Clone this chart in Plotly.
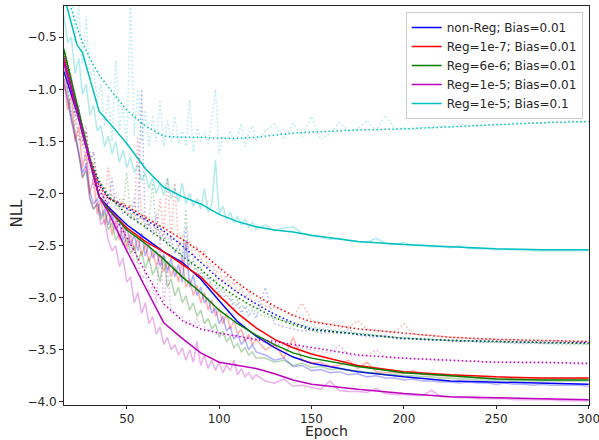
import plotly.graph_objects as go

# epochs for the smoothed curves and for the raw (unsmoothed) curves
EPOCH_SMOOTH = [16, 20, 23, 26, 30, 35, 40, 50, 60, 70, 80, 90, 100, 110, 120,
                130, 140, 150, 175, 200, 225, 250, 275, 300]
EPOCH_RAW = list(range(16, 121, 2)) + list(range(125, 301, 5))

# --- non-Reg; Bias=0.01 (blue)
blue_train = [-0.83, -1.05, -1.22, -1.42, -1.70, -2.03, -2.13, -2.30, -2.43, -2.56, -2.66, -2.82,
              -3.03, -3.23, -3.37, -3.48, -3.57, -3.63, -3.71, -3.76, -3.80, -3.81, -3.82, -3.83]
blue_val = [-0.70, -0.98, -1.20, -1.42, -1.68, -1.90, -2.04, -2.14, -2.25, -2.36, -2.50, -2.66,
            -2.82, -2.95, -3.06, -3.16, -3.24, -3.30, -3.35, -3.39, -3.41, -3.42, -3.43, -3.43]
blue_train_raw = [
    -0.95, -1.10, -1.30, -1.45, -1.62, -1.80, -1.72, -1.98, -2.10, -2.05,
    -2.22, -2.15, -2.30, -2.20, -2.35, -2.28, -2.45, -2.32, -2.50, -2.40,
    -2.55, -2.38, -2.60, -2.48, -2.62, -2.55, -2.70, -2.58, -2.75, -2.62,
    -2.80, -2.68, -2.85, -2.45, -2.90, -2.78, -2.98, -2.90, -3.05, -3.00,
    -3.15, -3.10, -3.25, -3.18, -3.32, -3.28, -3.40, -3.35, -3.45, -3.40,
    -3.50, -3.45, -3.52,
    -3.55, -3.60, -3.58, -3.66, -3.65, -3.70, -3.69, -3.72, -3.71, -3.74,
    -3.73, -3.76, -3.75, -3.77, -3.77, -3.79, -3.78, -3.80, -3.80, -3.81,
    -3.81, -3.82, -3.81, -3.82, -3.82, -3.83, -3.82, -3.83, -3.83, -3.84,
    -3.83, -3.84, -3.84, -3.84, -3.84, -3.85]
blue_val_raw = [
    -0.75, -0.95, -1.25, -1.20, -1.50, -1.45, -1.75, -1.60, -1.95, -1.85,
    -2.05, -2.00, -2.10, -1.85, -2.15, -2.10, -2.20, -2.15, -2.25, -2.05,
    -2.30, -1.00, -2.35, -2.28, -2.40, -2.20, -2.45, -2.38, -2.50, -2.42,
    -2.58, -2.50, -2.65, -2.30, -2.72, -2.65, -2.80, -2.75, -2.88, -2.80,
    -2.92, -2.88, -3.00, -2.95, -3.05, -3.00, -3.10, -3.05, -3.15, -3.08,
    -3.18, -3.12, -3.20,
    -2.90, -3.25, -3.28, -3.30, -3.32, -3.31, -3.34, -3.33, -3.35, -3.30,
    -3.36, -3.37, -3.38, -3.36, -3.39, -3.40, -3.39, -3.41, -3.41, -3.40,
    -3.42, -3.42, -3.41, -3.43, -3.43, -3.42, -3.43, -3.43, -3.44, -3.43,
    -3.44, -3.44, -3.43, -3.44, -3.44, -3.44]

# --- Reg=1e-7; Bias=0.01 (red)
red_train = [-0.72, -0.98, -1.19, -1.40, -1.68, -2.03, -2.15, -2.33, -2.46, -2.56, -2.68, -2.80,
             -2.98, -3.15, -3.29, -3.40, -3.48, -3.54, -3.65, -3.71, -3.74, -3.76, -3.77, -3.77]
red_val = [-0.68, -0.97, -1.19, -1.41, -1.68, -1.92, -2.05, -2.12, -2.23, -2.33, -2.44, -2.56,
           -2.71, -2.86, -2.98, -3.08, -3.17, -3.23, -3.30, -3.34, -3.38, -3.40, -3.41, -3.42]
red_train_raw = [
    -0.90, -1.20, -1.05, -1.50, -1.35, -1.75, -1.60, -2.00, -1.85, -2.20,
    -2.05, -2.30, -2.15, -2.40, -2.25, -2.45, -2.30, -2.52, -2.38, -2.55,
    -2.42, -2.60, -2.48, -2.65, -2.55, -2.70, -2.58, -2.75, -2.65, -2.80,
    -2.70, -2.85, -2.62, -2.90, -2.82, -2.98, -2.88, -3.05, -2.95, -3.12,
    -3.02, -3.18, -3.10, -3.25, -3.15, -3.30, -3.22, -3.35, -3.30, -3.42,
    -3.35, -3.45, -3.40,
    -3.50, -3.45, -3.58, -3.38, -3.60, -3.63, -3.62, -3.66, -3.65, -3.60,
    -3.68, -3.62, -3.71, -3.72, -3.72, -3.73, -3.70, -3.74, -3.74, -3.75,
    -3.75, -3.76, -3.76, -3.77, -3.77, -3.77, -3.77, -3.78, -3.78, -3.78,
    -3.78, -3.78, -3.78, -3.78, -3.78, -3.78]
red_val_raw = [
    -0.70, -1.00, -0.90, -1.35, -1.20, -1.55, -1.40, -1.80, -1.70, -1.90,
    -1.95, -2.05, -1.75, -2.10, -2.00, -2.15, -2.05, -2.20, -2.10, -2.25,
    -1.45, -2.28, -2.20, -2.32, -2.25, -2.38, -2.05, -2.40, -1.85, -2.45,
    -1.90, -2.50, -2.40, -2.55, -2.45, -2.60, -2.50, -2.65, -2.55, -2.72,
    -2.65, -2.78, -2.70, -2.85, -2.78, -2.90, -2.85, -2.95, -2.90, -3.00,
    -2.95, -3.05, -3.02,
    -3.08, -3.10, -3.12, -3.18, -3.05, -3.22, -3.24, -3.25, -3.27, -3.28,
    -3.22, -3.30, -3.31, -3.32, -3.33, -3.25, -3.35, -3.36, -3.36, -3.37,
    -3.38, -3.38, -3.39, -3.40, -3.40, -3.40, -3.41, -3.40, -3.41, -3.42,
    -3.42, -3.41, -3.42, -3.42, -3.43, -3.42]

# --- Reg=6e-6; Bias=0.01 (green)
green_train = [-0.62, -0.92, -1.14, -1.38, -1.68, -2.03, -2.15, -2.35, -2.48, -2.63, -2.80, -2.95,
               -3.12, -3.25, -3.36, -3.45, -3.53, -3.58, -3.66, -3.72, -3.75, -3.78, -3.79, -3.79]
green_val = [-0.62, -0.92, -1.14, -1.36, -1.66, -1.88, -2.02, -2.20, -2.32, -2.45, -2.60, -2.73,
             -2.88, -3.00, -3.10, -3.19, -3.26, -3.31, -3.35, -3.39, -3.41, -3.42, -3.43, -3.44]
green_train_raw = [
    -0.80, -1.05, -1.25, -1.40, -1.62, -1.85, -1.78, -2.05, -2.15, -2.10,
    -2.25, -2.18, -2.35, -2.28, -2.45, -2.38, -2.50, -2.42, -2.58, -2.50,
    -2.65, -2.55, -2.72, -2.62, -2.78, -2.70, -2.85, -2.60, -2.90, -2.82,
    -2.98, -2.90, -3.05, -2.98, -3.12, -3.05, -3.18, -3.12, -3.25, -3.20,
    -3.30, -3.25, -3.38, -3.32, -3.42, -3.38, -3.48, -3.44, -3.52, -3.48,
    -3.55, -3.52, -3.58,
    -3.58, -3.62, -3.60, -3.65, -3.63, -3.67, -3.66, -3.69, -3.68, -3.70,
    -3.70, -3.72, -3.72, -3.74, -3.74, -3.75, -3.75, -3.76, -3.76, -3.77,
    -3.77, -3.78, -3.78, -3.79, -3.79, -3.79, -3.79, -3.80, -3.80, -3.80,
    -3.80, -3.80, -3.80, -3.80, -3.80, -3.80]
green_val_raw = [
    -0.60, -0.85, -1.00, -1.25, -1.15, -1.50, -1.40, -1.70, -1.60, -1.85,
    -1.90, -1.95, -2.05, -2.00, -2.10, -2.05, -2.15, -1.80, -2.22, -2.18,
    -2.28, -2.20, -2.32, -2.25, -1.90, -2.38, -2.30, -2.45, -2.40, -2.50,
    -2.55, -2.50, -2.62, -2.15, -2.68, -2.62, -2.75, -2.70, -2.80, -2.78,
    -2.88, -2.82, -2.95, -2.90, -3.00, -2.95, -3.05, -3.02, -3.10, -3.05,
    -3.12, -3.10, -3.15,
    -3.18, -3.20, -3.22, -3.25, -3.26, -3.28, -3.30, -3.31, -3.32, -3.33,
    -3.34, -3.35, -3.36, -3.37, -3.38, -3.38, -3.39, -3.40, -3.40, -3.41,
    -3.41, -3.42, -3.42, -3.42, -3.43, -3.43, -3.43, -3.44, -3.44, -3.44,
    -3.44, -3.44, -3.45, -3.45, -3.45, -3.45]

# --- Reg=1e-5; Bias=0.01 (magenta)
mag_train = [-0.75, -1.00, -1.20, -1.40, -1.68, -2.03, -2.18, -2.55, -2.90, -3.24, -3.39, -3.53,
             -3.62, -3.65, -3.68, -3.73, -3.79, -3.83, -3.88, -3.92, -3.95, -3.96, -3.97, -3.98]
mag_val = [-0.70, -0.98, -1.20, -1.42, -1.70, -1.96, -2.12, -2.42, -2.75, -3.06, -3.22, -3.30,
           -3.34, -3.37, -3.40, -3.42, -3.45, -3.48, -3.55, -3.58, -3.60, -3.62, -3.62, -3.63]
mag_train_raw = [
    -0.90, -1.10, -1.30, -1.45, -1.60, -1.85, -1.75, -2.05, -2.15, -2.10,
    -2.30, -2.25, -2.45, -2.55, -2.50, -2.70, -2.62, -2.85, -2.80, -3.05,
    -2.95, -3.15, -3.05, -3.25, -3.18, -3.35, -3.28, -3.45, -3.38, -3.50,
    -3.45, -3.55, -3.48, -3.60, -3.50, -3.62, -3.42, -3.65, -3.55, -3.68,
    -3.60, -3.70, -3.62, -3.72, -3.65, -3.70, -3.60, -3.74, -3.68, -3.76,
    -3.72, -3.78, -3.74,
    -3.80, -3.82, -3.78, -3.85, -3.84, -3.86, -3.88, -3.80, -3.89, -3.90,
    -3.90, -3.91, -3.87, -3.92, -3.93, -3.93, -3.94, -3.94, -3.89, -3.95,
    -3.95, -3.96, -3.96, -3.97, -3.97, -3.97, -3.97, -3.98, -3.98, -3.98,
    -3.98, -3.98, -3.99, -3.99, -3.99, -3.99]
mag_val_raw = [
    -0.65, -0.95, -0.85, -1.25, -1.15, -1.45, -1.35, -1.70, -1.60, -1.95,
    -1.90, -2.10, -2.05, -2.25, -2.20, -2.40, -2.30, -2.55, -2.45, -2.70,
    -2.65, -2.85, -2.75, -2.95, -2.88, -3.05, -2.35, -3.10, -2.70, -3.15,
    -3.12, -3.20, -3.18, -3.25, -3.22, -3.28, -3.20, -3.30, -3.28, -3.32,
    -3.30, -3.34, -3.33, -3.36, -3.35, -3.37, -3.36, -3.38, -3.37, -3.40,
    -3.39, -3.41, -3.40,
    -3.43, -3.44, -3.46, -3.47, -3.48, -3.50, -3.52, -3.53, -3.46, -3.55,
    -3.56, -3.56, -3.50, -3.57, -3.58, -3.58, -3.59, -3.59, -3.60, -3.60,
    -3.60, -3.61, -3.61, -3.61, -3.62, -3.62, -3.62, -3.62, -3.63, -3.63,
    -3.63, -3.63, -3.63, -3.63, -3.64, -3.64]

# --- Reg=1e-5; Bias=0.1 (cyan)
cyan_train = [-0.10, -0.38, -0.57, -0.65, -0.90, -1.21, -1.31, -1.52, -1.76, -1.94, -2.03, -2.10,
              -2.20, -2.27, -2.32, -2.35, -2.37, -2.40, -2.46, -2.49, -2.51, -2.53, -2.54, -2.54]
cyan_val = [0.00, -0.24, -0.40, -0.55, -0.70, -0.86, -0.98, -1.20, -1.35, -1.45, -1.46, -1.46,
            -1.47, -1.47, -1.46, -1.44, -1.42, -1.41, -1.39, -1.38, -1.36, -1.34, -1.32, -1.31]
cyan_train_raw = [
    -0.30, -0.55, -0.50, -0.85, -0.70, -1.05, -0.95, -1.25, -1.15, -1.40,
    -1.35, -1.55, -1.45, -1.62, -1.50, -1.70, -1.58, -1.75, -1.65, -1.80,
    -1.72, -1.88, -1.80, -1.95, -1.85, -2.00, -1.90, -2.02, -1.85, -2.05,
    -1.95, -2.08, -1.90, -2.10, -2.00, -2.12, -2.05, -2.15, -1.95, -2.18,
    -2.10, -1.68, -2.20, -2.12, -2.25, -2.18, -2.28, -2.22, -2.30, -2.25,
    -2.32, -2.28, -2.34,
    -2.30, -2.36, -2.33, -2.32, -2.38, -2.41, -2.42, -2.44, -2.43, -2.45,
    -2.46, -2.47, -2.43, -2.48, -2.49, -2.47, -2.50, -2.50, -2.51, -2.51,
    -2.52, -2.50, -2.53, -2.53, -2.53, -2.54, -2.54, -2.54, -2.54, -2.55,
    -2.55, -2.55, -2.55, -2.55, -2.55, -2.55]
cyan_val_raw = [
    0.20, -0.25, 0.10, -0.55, -0.20, -0.75, -0.30, -0.90, -0.80, -1.10,
    -0.95, -1.35, -1.05, -1.50, -0.72, -1.40, -1.15, -1.55, -0.15, -1.45,
    -1.00, -1.50, -1.20, -1.55, -1.25, -1.50, -1.10, -1.55, -1.30, -1.50,
    -1.26, -1.52, -1.40, -1.55, -1.10, -1.60, -1.35, -1.50, -1.42, -1.52,
    -1.30, -1.00, -1.62, -1.45, -1.50, -1.40, -1.52, -1.45, -1.33, -1.55,
    -1.42, -1.35, -1.50,
    -1.40, -1.33, -1.48, -1.33, -1.45, -1.26, -1.48, -1.42, -1.32, -1.40,
    -1.38, -1.30, -1.40, -1.25, -1.38, -1.37, -1.39, -1.36, -1.37, -1.35,
    -1.36, -1.33, -1.35, -1.34, -1.35, -1.33, -1.34, -1.32, -1.33, -1.32,
    -1.33, -1.31, -1.32, -1.30, -1.31, -1.30]

LABELS = ['non-Reg; Bias=0.01', 'Reg=1e-7; Bias=0.01', 'Reg=6e-6; Bias=0.01',
          'Reg=1e-5; Bias=0.01', 'Reg=1e-5; Bias=0.1']
COLORS = ['#0000ff', '#ff0000', '#008000', '#bf00bf', '#00bfbf']

runs = [
    (blue_train, blue_val, blue_train_raw, blue_val_raw),
    (red_train, red_val, red_train_raw, red_val_raw),
    (green_train, green_val, green_train_raw, green_val_raw),
    (mag_train, mag_val, mag_train_raw, mag_val_raw),
    (cyan_train, cyan_val, cyan_train_raw, cyan_val_raw),
]

DOT = '1.5px,2.5px'

fig = go.Figure()

for (tr, va, tr_raw, va_raw), name, col in zip(runs, LABELS, COLORS):
    # raw curves, faint
    fig.add_trace(go.Scatter(x=EPOCH_RAW, y=tr_raw, mode='lines', opacity=0.3,
                             line=dict(color=col, width=1.5), showlegend=False))
    fig.add_trace(go.Scatter(x=EPOCH_RAW, y=va_raw, mode='lines', opacity=0.3,
                             line=dict(color=col, width=1.5, dash=DOT), showlegend=False))
    # smoothed curves
    fig.add_trace(go.Scatter(x=EPOCH_SMOOTH, y=tr, mode='lines', name=name,
                             line=dict(color=col, width=1.5)))
    fig.add_trace(go.Scatter(x=EPOCH_SMOOTH, y=va, mode='lines', showlegend=False,
                             line=dict(color=col, width=1.5, dash=DOT)))

axis_common = dict(showline=True, mirror=True, linecolor='#262626', linewidth=1,
                   ticks='outside', tickcolor='#262626', showgrid=False,
                   zeroline=False, automargin=False, ticklabeloverflow='allow',
                   tickfont=dict(size=12, color='#262626'))

fig.update_layout(
    width=599, height=440,
    margin=dict(l=64, r=10, t=6, b=35),
    paper_bgcolor='white', plot_bgcolor='white',
    font=dict(family='DejaVu Sans', color='#262626'),
    xaxis=dict(range=[16, 300.2], tickvals=[50, 100, 150, 200, 250, 300], ticklen=3,
               **axis_common),
    yaxis=dict(range=[-4.03, -0.2], tick0=-4.0, dtick=0.5, tickformat='.1f', ticklen=4,
               **axis_common),
    legend=dict(x=0.988, y=0.985, xanchor='right', yanchor='top',
                bgcolor='rgba(255,255,255,0.8)', bordercolor='#cccccc', borderwidth=1,
                font=dict(size=12), tracegroupgap=0),
    showlegend=True,
    annotations=[
        dict(text='Epoch', xref='paper', yref='paper', x=0.5, y=-0.087,
             xanchor='center', yanchor='bottom', showarrow=False, borderpad=0,
             font=dict(size=14)),
        dict(text='NLL', xref='paper', yref='paper', x=-0.0895, y=0.48, textangle=-90,
             xanchor='center', yanchor='middle', showarrow=False, font=dict(size=15)),
    ],
)

# the page body has a default margin; drop it so the figure sits at the window corner
fig.write_html("out.html", config={'displayModeBar': False},
               post_script="document.body.style.margin='0';")
